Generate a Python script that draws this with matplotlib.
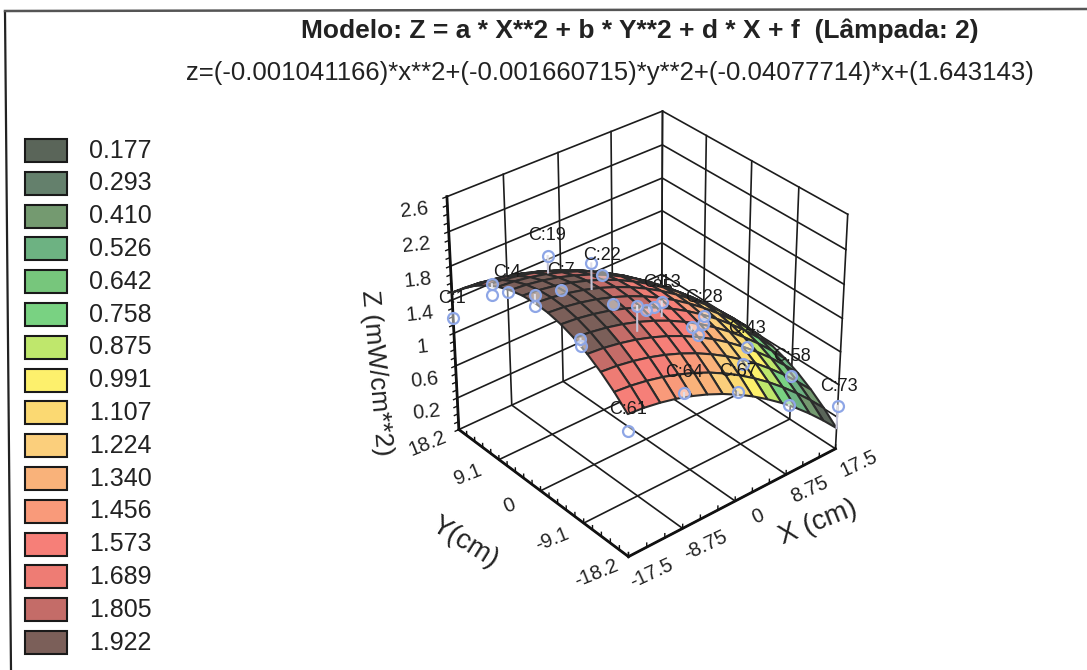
import numpy as np
import matplotlib
matplotlib.use("Agg")
import matplotlib.pyplot as plt
from matplotlib.colors import ListedColormap, BoundaryNorm
from matplotlib.patches import Rectangle
from matplotlib.lines import Line2D
from mpl_toolkits.mplot3d import proj3d

# ---------- data ----------
title_text = "Modelo: Z = a * X**2 + b * Y**2 + d * X + f  (Lâmpada: 2)"
equation_text = "z=(-0.001041166)*x**2+(-0.001660715)*y**2+(-0.04077714)*x+(1.643143)"
legend_values = ["0.177", "0.293", "0.410", "0.526", "0.642", "0.758", "0.875", "0.991",
                 "1.107", "1.224", "1.340", "1.456", "1.573", "1.689", "1.805", "1.922"]
legend_colors = ["#5a6559", "#64806c", "#749a70", "#6db282", "#77c67c", "#79d282", "#bfe76c", "#fdf06c",
                 "#fbd972", "#fbcf7c", "#f9b27a", "#f99a7a", "#f67f78", "#ee7c74", "#c46c68", "#7b5f59"]
x_ticks = [-17.5, -8.75, 0, 8.75, 17.5]
x_tick_labels = ["-17.5", "-8.75", "0", "8.75", "17.5"]
y_ticks = [-18.2, -9.1, 0, 9.1, 18.2]
y_tick_labels = ["-18.2", "-9.1", "0", "9.1", "18.2"]
z_ticks = [0.2, 0.6, 1.0, 1.4, 1.8, 2.2, 2.6]
z_tick_labels = ["0.2", "0.6", "1", "1.4", "1.8", "2.2", "2.6"]

# surface: height along y=0 at 15 x stations, and fall-off along y at 15 y stations
surface_x = [-17.5, -15, -12.5, -10, -7.5, -5, -2.5, 0, 2.5, 5, 7.5, 10, 12.5, 15, 17.5]
surface_y = [-18.2, -15.6, -13, -10.4, -7.8, -5.2, -2.6, 0, 2.6, 5.2, 7.8, 10.4, 13, 15.6, 18.2]
height_along_x = [2.038, 2.021, 1.990, 1.947, 1.890, 1.821, 1.739, 1.643,
                  1.535, 1.413, 1.279, 1.131, 0.971, 0.797, 0.611]
falloff_along_y = [0.5501, 0.4042, 0.2807, 0.1796, 0.1010, 0.0449, 0.0112, 0,
                   0.0112, 0.0449, 0.1010, 0.1796, 0.2807, 0.4042, 0.5501]

# measured cases
point_x = [-17.5, -8.75, 0, 8.75, 17.5, -17.5, -17.5, -8.75, 0, -8.75, 8.75, 17.5, 17.5, -17.5, -17.5,
           0, 8.75, 17.5, -17.5, -17.5, -8.75, 0, 8.75, 17.5, -17.5, -8.75, 0, 8.75, 17.5]
point_y = [18.2, 18.2, 18.2, 18.2, 18.2, 9.1, 9.1, 9.1, 9.1, 0, 9.1, 9.1, 9.1, 0, 0,
           0, 0, 0, -9.1, -9.1, -9.1, -9.1, -9.1, -9.1, -18.2, -18.2, -18.2, -18.2, -18.2]
point_z = [1.18, 1.21, 0.96, 0.50, 0.25, 1.92, 1.80, 1.97, 1.47, 2.21, 0.80, 0.40, 0.30, 2.13, 2.00,
           1.39, 0.80, 0.35, 1.98, 1.90, 2.06, 1.53, 0.80, 0.35, 1.30, 1.42, 1.12, 0.66, 0.34]
point_labels = ["C:1", "C:4", "C:7", "C:10", "C:13", "", "", "C:19", "C:22", "", "C:25", "C:28", "", "", "",
                "", "C:40", "C:43", "", "", "", "", "", "C:58", "C:61", "C:64", "C:67", "", "C:73"]
labels_behind_surface = ["C:7", "C:10", "C:25", "C:40"]

# ---------- figure ----------
W, H = 1087, 670
plt.rcParams["font.family"] = ["Liberation Sans", "DejaVu Sans"]
fig = plt.figure(figsize=(W / 100, H / 100), dpi=100, facecolor="white")

S = 600
cx, cy = 638, 334
ax = fig.add_axes([(cx - S / 2) / W, 1 - (cy + S / 2) / H, S / W, S / H], projection="3d",
                  computed_zorder=False)
ax.set_proj_type("persp", focal_length=0.75)
ax.view_init(elev=33, azim=-130)
ax.set_box_aspect((1, 1, 1.01), zoom=0.775)
xlo, xhi, ylo, yhi, zlo, zhi = -17.5, 17.5, -18.2, 18.2, -0.2, 2.6
ax.set_xlim(xlo, xhi); ax.set_ylim(ylo, yhi); ax.set_zlim(zlo, zhi)
ax.set_axis_off()
ax.patch.set_alpha(0)


def label3d(x, y, z, text, **kw):
    """Text at a data position, kept upright in screen space with its own rotation."""
    xp, yp, _ = proj3d.proj_transform(x, y, z, ax.get_proj())
    return ax.text2D(xp, yp, text, transform=ax.transData, ha="center", va="center", **kw)


line = dict(color="#1c1c1c", lw=1.2, zorder=1)
# walls and floor grid
for z in z_ticks:
    ax.plot([xlo, xhi, xhi], [yhi, yhi, ylo], [z, z, z], **line)
for x in x_ticks:
    ax.plot([x, x, x], [ylo, yhi, yhi], [zlo, zlo, zhi], **line)
for y in y_ticks:
    ax.plot([xlo, xhi, xhi], [y, y, y], [zlo, zlo, zhi], **line)
# axis edges with minor ticks
edge = dict(color="#111111", lw=2.0, zorder=1)
ax.plot([xlo, xhi], [ylo, ylo], [zlo, zlo], **edge)
ax.plot([xlo, xlo], [ylo, yhi], [zlo, zlo], **edge)
ax.plot([xlo, xlo], [yhi, yhi], [zlo, zhi], **edge)
tick = dict(color="#111111", lw=1.0, zorder=1)
for x in np.linspace(xlo, xhi, 13):
    ax.plot([x, x], [ylo, ylo], [zlo, zlo + 0.05], **tick)
for y in np.linspace(ylo, yhi, 21):
    ax.plot([xlo, xlo], [y, y], [zlo, zlo + 0.05], **tick)
for z in np.linspace(zlo, zhi, 29):
    ax.plot([xlo, xlo - 0.6], [yhi, yhi], [z, z], **tick)

# surface
X, Y = np.meshgrid(surface_x, surface_y)
Z = np.array(height_along_x)[None, :] - np.array(falloff_along_y)[:, None]
levels = np.array([float(v) for v in legend_values])
bounds = np.r_[levels[0] - 0.058, levels + 0.058]
cmap = ListedColormap(legend_colors)
norm = BoundaryNorm(bounds, cmap.N, clip=True)
Zc = 0.25 * (Z[:-1, :-1] + Z[1:, :-1] + Z[:-1, 1:] + Z[1:, 1:])
ax.plot_surface(X, Y, Z, rstride=1, cstride=1, facecolors=cmap(norm(Zc)), edgecolor="#2b2b2b",
                linewidth=1.5, shade=False, zorder=2, antialiased=True)

# points, spikes, labels
px, py, pz = np.array(point_x), np.array(point_y), np.array(point_z)
for a, b, c in zip(px, py, pz):
    zs = np.interp(a, surface_x, height_along_x) - np.interp(b, surface_y, falloff_along_y)
    if c > zs:
        ax.plot([a, a], [b, b], [c, zs], color="#c4c4d8", lw=1.5, zorder=3)
ax.scatter(px, py, pz, s=62, facecolors=(1, 1, 1, 0.45), edgecolors="#8ea6e6", linewidths=1.6,
           depthshade=False, zorder=4)
for a, b, c, t in zip(px, py, pz, point_labels):
    if t:
        label3d(a, b, c + 0.24, t, fontsize=13, color="#1a1a1a",
                zorder=1.5 if t in labels_behind_surface else 5)

# tick labels and axis titles
tk = dict(fontsize=14.5, color="#222222", zorder=6)
for x, t in zip(x_ticks, x_tick_labels):
    label3d(x, ylo - 4.5, zlo, t, rotation=25, **tk)
for y, t in zip(y_ticks, y_tick_labels):
    label3d(xlo - 5, y, zlo, t, rotation=22, **tk)
for z, t in zip(z_ticks, z_tick_labels):
    label3d(xlo - 5, yhi, z, t, rotation=6, **tk)
title3d = dict(color="#222222", zorder=6)
label3d(5, -28.5, zlo, "X (cm)", rotation=22, fontsize=20, **title3d)
label3d(-31.2, -2.5, zlo, "Y(cm)", rotation=-32, fontsize=20, **title3d)
label3d(-29.7, yhi, 0.93, "Z (mW/cm**2)", rotation=-85, fontsize=19, **title3d)

# overlay in pixel coordinates: frame, titles, legend
ov = fig.add_axes([0, 0, 1, 1], facecolor="none")
ov.set_xlim(0, W); ov.set_ylim(H, 0); ov.axis("off")
ov.add_line(Line2D([5, 11], [12, H], color="#222222", lw=1.6))
ov.add_line(Line2D([5, W], [11, 9], color="#555555", lw=1.8))
ov.text(640, 31, title_text, fontsize=19, fontweight="bold", ha="center", va="center", color="#222222")
ov.text(609.5, 73, equation_text, fontsize=18.5, ha="center", va="center", color="#222222")
for i, (v, c) in enumerate(zip(legend_values, legend_colors)):
    yc = 150.5 + i * 32.8
    ov.add_patch(Rectangle((24.5, yc - 11.5), 42.5, 23, facecolor=c, edgecolor="#1a1a1a", lw=1.5))
    ov.text(89, yc, v, fontsize=18, ha="left", va="center", color="#222222")

fig.savefig("out.png", dpi=100)
